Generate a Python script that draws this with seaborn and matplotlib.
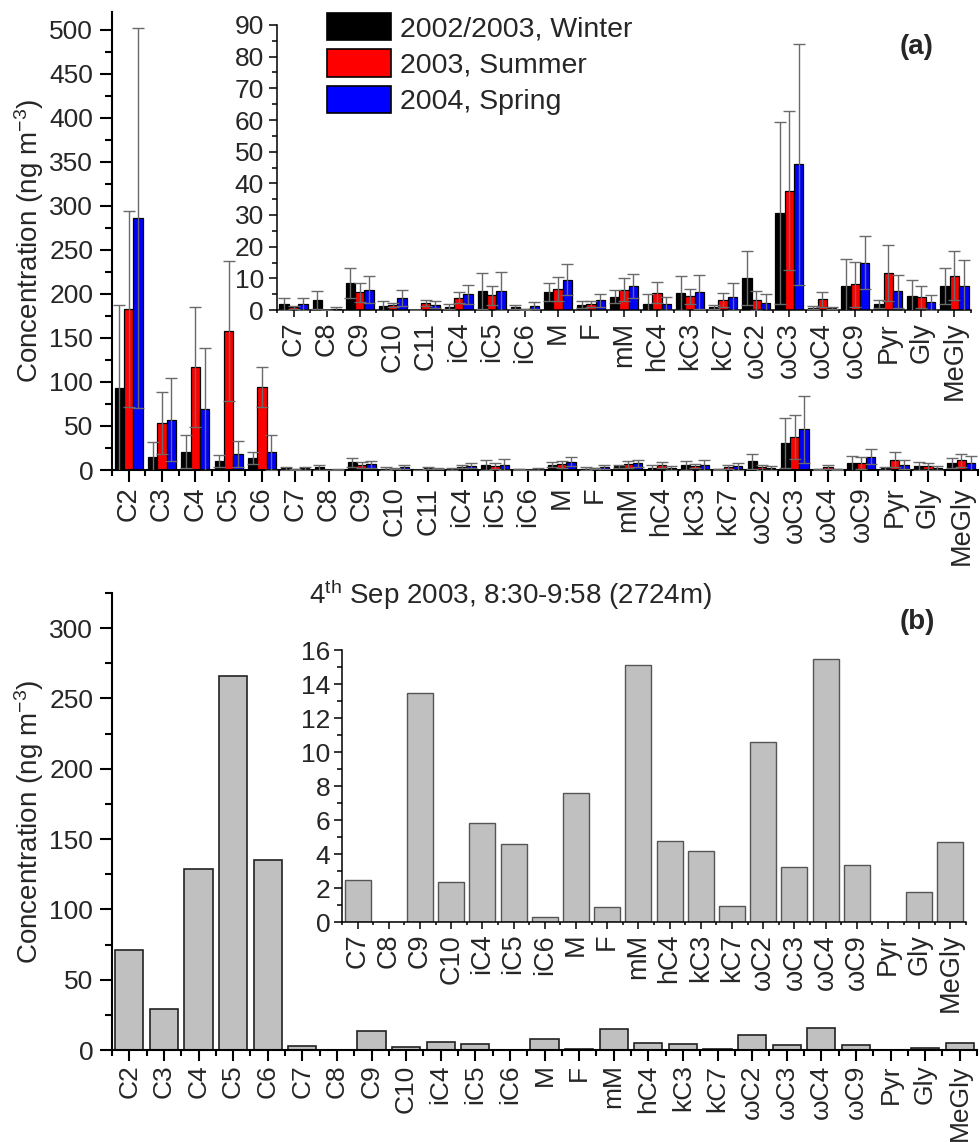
import numpy as np
import pandas as pd
import matplotlib
matplotlib.use("Agg")
import matplotlib.pyplot as plt
from matplotlib.patches import Patch
from matplotlib.ticker import MultipleLocator, FixedLocator
import seaborn as sns

# ---------------- data ----------------
cats_a = ["C2", "C3", "C4", "C5", "C6", "C7", "C8", "C9", "C10", "C11", "iC4", "iC5", "iC6",
          "M", "F", "mM", "hC4", "kC3", "kC7", "ωC2", "ωC3", "ωC4", "ωC9", "Pyr", "Gly", "MeGly"]
seasons = ["2002/2003, Winter", "2003, Summer", "2004, Spring"]
season_colors = ["#000000", "#FF0000", "#0000FF"]

winter = [92.8, 15, 21, 10, 13.6, 1.9, 3.2, 8.6, 1.3, 0, 1.1, 6.1, 0.9,
          5.8, 1.7, 4.2, 2.0, 5.3, 0.9, 10.1, 30.7, 0.7, 7.7, 1.9, 4.5, 7.7]
winter_sd = [94.7, 17, 19, 7, 6.4, 1.8, 2.9, 4.8, 1.6, 0, 0.8, 5.7, 0.6,
             2.8, 1.2, 2.0, 3.2, 5.4, 0.7, 8.6, 28.8, 0.5, 8.5, 1.4, 5.0, 5.7]
summer = [182.6, 53, 117, 158, 94, 0.8, 0, 5.6, 1.6, 2.2, 3.9, 4.6, 0.2,
          6.5, 1.9, 6.4, 5.5, 4.3, 3.1, 3.1, 37.7, 3.4, 8.1, 11.8, 4.1, 10.8]
summer_sd = [111.4, 35, 68, 79.5, 23, 0.4, 0, 3.0, 0.7, 1.0, 1.7, 3.1, 0.2,
             3.8, 0.8, 3.6, 3.3, 2.4, 2.2, 3.0, 25.2, 2.3, 7.0, 8.8, 3.6, 7.7]
spring = [286, 57, 69, 18, 20, 1.9, 0.3, 6.4, 3.8, 1.7, 4.9, 6.0, 1.4,
          9.5, 3.1, 7.6, 2.0, 5.6, 4.2, 2.2, 46.0, 0.7, 15.0, 5.9, 2.4, 7.6]
spring_sd = [216, 47, 70, 15, 20, 1.8, 0.6, 4.3, 2.4, 1.0, 3.1, 6.0, 1.2,
             4.9, 2.1, 3.8, 2.1, 5.3, 4.3, 2.7, 38.0, 0.3, 8.5, 5.2, 2.4, 8.3]

cats_b = ["C2", "C3", "C4", "C5", "C6", "C7", "C8", "C9", "C10", "iC4", "iC5", "iC6",
          "M", "F", "mM", "hC4", "kC3", "kC7", "ωC2", "ωC3", "ωC4", "ωC9", "Pyr", "Gly", "MeGly"]
sep2003 = [71, 29, 128.5, 266, 135, 2.5, 0, 13.5, 2.35, 5.85, 4.6, 0.3,
           7.6, 0.9, 15.1, 4.75, 4.2, 0.95, 10.6, 3.25, 15.5, 3.35, 0, 1.75, 4.7]

title_b = "4$^{\\mathregular{th}}$ Sep 2003, 8:30-9:58 (2724m)"
ylabel = "Concentration (ng m$^{\\mathregular{-3}}$)"

# ---------------- style ----------------
sns.set_style("ticks")
plt.rcParams["font.family"] = ["Liberation Sans", "DejaVu Sans"]
plt.rcParams["mathtext.fontset"] = "custom"
plt.rcParams["mathtext.rm"] = "Liberation Sans"
plt.rcParams["mathtext.it"] = "Liberation Sans:italic"
plt.rcParams["mathtext.bf"] = "Liberation Sans:bold"
plt.rcParams["axes.unicode_minus"] = False

W, H = 980, 1142
fig = plt.figure(figsize=(W / 100, H / 100), dpi=100)


def rect(l, r, b, t):
    return [l / W, 1 - b / H, (r - l) / W, (b - t) / H]


long_a = pd.DataFrame({
    "compound": cats_a * 3,
    "season": [s for s in seasons for _ in cats_a],
    "value": winter + summer + spring,
})
sd_list = [winter_sd, summer_sd, spring_sd]


def grouped(ax, cats, width, lw_edge, capsize, elw):
    df = long_a[long_a["compound"].isin(cats)]
    sns.barplot(data=df, x="compound", y="value", hue="season", order=cats,
                hue_order=seasons, palette=season_colors, saturation=1,
                errorbar=None, width=width, edgecolor="black", linewidth=lw_edge,
                legend=False, ax=ax)
    idx = [cats_a.index(c) for c in cats]
    for cont, sd in zip(ax.containers, sd_list):
        xs = [p.get_x() + p.get_width() / 2 for p in cont.patches]
        ys = [p.get_height() for p in cont.patches]
        es = [sd[i] for i in idx]
        ax.errorbar(xs, ys, yerr=es, fmt="none", ecolor="#6a6a6a",
                    elinewidth=elw, capsize=capsize, capthick=elw, zorder=5)


def style_axes(ax, n, ymax, ymaj, ymin, spine_lw, maj_len, min_len, yfs, xfs,
               xmaj_len, xmin_len, ypad, xpad):
    sns.despine(ax=ax)
    ax.set_facecolor("none")
    ax.set_xlim(-0.5, n - 0.5)
    ax.set_ylim(0, ymax)
    ax.yaxis.set_major_locator(MultipleLocator(ymaj))
    ax.yaxis.set_minor_locator(MultipleLocator(ymin))
    ax.xaxis.set_minor_locator(FixedLocator(np.arange(-0.5, n, 1.0)))
    for s in ["left", "bottom"]:
        ax.spines[s].set_linewidth(spine_lw)
        ax.spines[s].set_color("black")
    ax.tick_params(axis="y", which="major", direction="out", length=maj_len, width=spine_lw,
                   labelsize=yfs, pad=ypad, color="black")
    ax.tick_params(axis="y", which="minor", direction="out", length=min_len, width=spine_lw,
                   color="black")
    ax.tick_params(axis="x", which="major", direction="out", length=xmaj_len, width=spine_lw,
                   labelsize=xfs, pad=xpad, color="black")
    ax.tick_params(axis="x", which="minor", direction="out", length=xmin_len, width=spine_lw,
                   color="black")
    for lab in ax.get_xticklabels():
        lab.set_rotation(90)
    ax.set_xlabel("")
    ax.set_ylabel("")


# ---------------- panel (a) ----------------
ax_a = fig.add_axes(rect(112, 978, 470, 12))
grouped(ax_a, cats_a, 0.84, 0.9, 4.5, 1.0)
style_axes(ax_a, len(cats_a), 520, 50, 25, 1.5, 8.5, 5, 19, 19.5, 8.5, 4.5, 5, 3.5)
ax_a.set_ylabel(ylabel, fontsize=20, labelpad=2)

inset_a_cats = cats_a[5:]
ax_ai = fig.add_axes(rect(277, 971, 310, 25))
grouped(ax_ai, inset_a_cats, 0.85, 0.9, 4.5, 1.0)
style_axes(ax_ai, len(inset_a_cats), 90, 10, 5, 1.1, 6, 3.5, 19, 19.5, 5, 2.5, 3.5, 3.5)

handles = [Patch(facecolor=c, edgecolor="black", linewidth=1.2) for c in season_colors]
fig.legend(handles, seasons, loc="upper left", bbox_to_anchor=(327 / W, 1 - 13 / H),
           frameon=False, fontsize=20.5, handlelength=2.25, handleheight=1.1,
           labelspacing=0.25, handletextpad=0.3, borderpad=0, borderaxespad=0)
fig.text(917 / W, 1 - 47 / H, "(a)", fontsize=20, fontweight="bold", ha="center", va="center")

# ---------------- panel (b) ----------------
df_b = pd.DataFrame({"compound": cats_b, "value": sep2003})
ax_b = fig.add_axes(rect(112, 977, 1050, 593))
sns.barplot(data=df_b, x="compound", y="value", order=cats_b, color="#C0C0C0",
            saturation=1, errorbar=None, width=0.81, edgecolor="#222222", linewidth=1.2, ax=ax_b)
style_axes(ax_b, len(cats_b), 325, 50, 25, 1.5, 8.5, 5, 19, 19, 8, 4.5, 5, 2.5)
ax_b.set_ylabel(ylabel, fontsize=20, labelpad=2)

inset_b_cats = cats_b[5:]
ax_bi = fig.add_axes(rect(342, 966, 922, 650))
sns.barplot(data=df_b[df_b["compound"].isin(inset_b_cats)], x="compound", y="value",
            order=inset_b_cats, color="#C0C0C0", saturation=1, errorbar=None, width=0.83,
            edgecolor="#555555", linewidth=1.0, ax=ax_bi)
style_axes(ax_bi, len(inset_b_cats), 16, 2, 1, 1.1, 6, 3.5, 19, 19.5, 5, 2.5, 2.5, 3.5)

fig.text(510 / W, 1 - 604 / H, title_b, fontsize=20, ha="center", va="baseline")
fig.text(917 / W, 1 - 622 / H, "(b)", fontsize=20, fontweight="bold", ha="center", va="center")

fig.savefig("out.png", dpi=100)
